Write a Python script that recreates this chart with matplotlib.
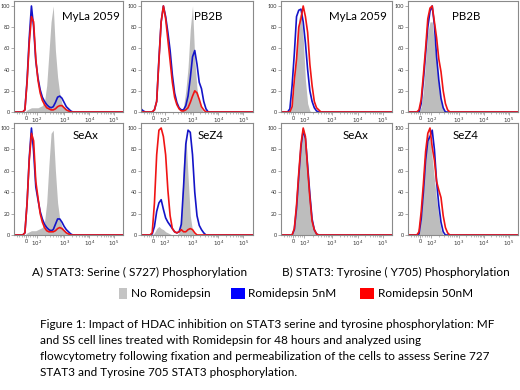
"""Flow cytometry overlay histograms: STAT3 phosphorylation after Romidepsin."""

import matplotlib

matplotlib.use("Agg")
import matplotlib.pyplot as plt
import numpy as np
from matplotlib.patches import Rectangle

plt.rcParams["font.family"] = ["Lato", "DejaVu Sans"]

# channel position (display scale, 0-100 across the plot) of each histogram bin
CHANNEL = [0, 2, 4, 6, 8, 10, 12, 14, 16, 18, 20, 22, 24, 26, 28, 30,
           32, 34, 36, 38, 40, 42, 44, 46, 48, 50, 52, 54, 56, 58, 60, 62, 100]

TICK_LABELS = ["0", "$10^2$", "$10^3$", "$10^4$", "$10^5$"]
TICK_CHANNEL = [11, 21, 46, 69, 91.5]

CELL_LINES = ["MyLa 2059", "PB2B", "SeAx", "SeZ4"]

# A) Serine S727, % of max
SER_NONE = {
    "MyLa 2059": [0, 0, 0, 0, 0, 0, 2, 3, 4, 4, 4, 4, 5, 6, 10, 25, 55, 85, 100, 58, 33, 17, 8, 5, 3, 1, 0, 0, 0, 0, 0, 0, 0],
    "PB2B":      [0, 0, 0, 0, 0, 0, 0, 0, 0, 0, 0, 0, 0, 0, 0, 0, 0, 0, 0, 5, 20, 42, 78, 100, 50, 22, 10, 3, 0, 0, 0, 0, 0],
    "SeAx":      [0, 0, 0, 0, 0, 0, 2, 3, 4, 4, 4, 5, 6, 7, 12, 30, 65, 95, 98, 60, 30, 15, 8, 5, 3, 1, 0, 0, 0, 0, 0, 0, 0],
    "SeZ4":      [0, 0, 0, 0, 0, 0, 2, 6, 8, 6, 5, 3, 2, 1, 0, 0, 0, 2, 20, 70, 95, 55, 18, 4, 0, 0, 0, 0, 0, 0, 0, 0, 0],
}
SER_5NM = {
    "MyLa 2059": [0, 0, 0, 0, 0, 2, 30, 70, 100, 80, 48, 32, 21, 14, 10, 7, 5, 4, 5, 9, 14, 15, 13, 9, 5, 3, 1, 0, 0, 0, 0, 0, 0],
    "PB2B":      [3, 1, 0, 0, 0, 0, 2, 10, 50, 85, 100, 90, 75, 58, 35, 18, 9, 4, 2, 2, 6, 15, 32, 52, 58, 45, 28, 22, 10, 3, 0, 0, 0],
    "SeAx":      [0, 0, 0, 0, 0, 2, 30, 72, 100, 78, 45, 33, 22, 15, 10, 7, 5, 4, 5, 10, 15, 15, 12, 8, 5, 3, 1, 0, 0, 0, 0, 0, 0],
    "SeZ4":      [0, 0, 0, 0, 0, 1, 8, 22, 30, 33, 24, 16, 12, 9, 6, 3, 2, 3, 10, 45, 85, 98, 96, 75, 40, 18, 9, 5, 2, 0, 0, 0, 0],
}
SER_50NM = {
    "MyLa 2059": [0, 0, 0, 0, 0, 2, 28, 65, 90, 85, 50, 30, 18, 11, 7, 4, 3, 2, 2, 3, 5, 6, 6, 4, 2, 1, 0, 0, 0, 0, 0, 0, 0],
    "PB2B":      [0, 0, 0, 0, 0, 0, 2, 10, 48, 85, 100, 88, 68, 48, 28, 14, 7, 3, 1, 1, 2, 4, 9, 15, 20, 18, 12, 5, 2, 0, 0, 0, 0],
    "SeAx":      [0, 0, 0, 0, 0, 2, 30, 70, 95, 88, 50, 35, 20, 12, 7, 4, 3, 3, 3, 4, 6, 7, 6, 4, 2, 1, 0, 0, 0, 0, 0, 0, 0],
    "SeZ4":      [0, 0, 0, 0, 0, 2, 30, 75, 98, 100, 92, 75, 42, 18, 6, 3, 2, 3, 5, 3, 3, 5, 6, 5, 2, 0, 0, 0, 0, 0, 0, 0, 0],
}

# B) Tyrosine Y705, % of max
TYR_NONE = {
    "MyLa 2059": [0, 0, 0, 0, 0, 5, 25, 60, 88, 95, 70, 30, 8, 1, 0, 0, 0, 0, 0, 0, 0, 0, 0, 0, 0, 0, 0, 0, 0, 0, 0, 0, 0],
    "PB2B":      [0, 0, 0, 0, 0, 0, 5, 20, 48, 75, 85, 85, 65, 45, 22, 10, 3, 0, 0, 0, 0, 0, 0, 0, 0, 0, 0, 0, 0, 0, 0, 0, 0],
    "SeAx":      [0, 0, 0, 0, 0, 0, 5, 25, 55, 80, 95, 80, 55, 30, 10, 3, 0, 0, 0, 0, 0, 0, 0, 0, 0, 0, 0, 0, 0, 0, 0, 0, 0],
    "SeZ4":      [0, 0, 0, 0, 0, 2, 15, 40, 75, 95, 90, 72, 52, 33, 17, 5, 0, 0, 0, 0, 0, 0, 0, 0, 0, 0, 0, 0, 0, 0, 0, 0, 0],
}
TYR_5NM = {
    "MyLa 2059": [0, 0, 0, 0, 3, 25, 55, 90, 96, 97, 85, 65, 40, 20, 10, 4, 1, 0, 0, 0, 0, 0, 0, 0, 0, 0, 0, 0, 0, 0, 0, 0, 0],
    "PB2B":      [0, 0, 0, 0, 0, 0, 8, 30, 55, 80, 95, 100, 82, 52, 30, 13, 4, 0, 0, 0, 0, 0, 0, 0, 0, 0, 0, 0, 0, 0, 0, 0, 0],
    "SeAx":      [0, 0, 0, 0, 0, 0, 5, 25, 55, 82, 98, 90, 65, 38, 15, 5, 1, 0, 0, 0, 0, 0, 0, 0, 0, 0, 0, 0, 0, 0, 0, 0, 0],
    "SeZ4":      [0, 0, 0, 0, 0, 1, 15, 40, 70, 88, 92, 98, 80, 50, 28, 12, 3, 0, 0, 0, 0, 0, 0, 0, 0, 0, 0, 0, 0, 0, 0, 0, 0],
}
TYR_50NM = {
    "MyLa 2059": [0, 0, 0, 0, 0, 5, 30, 50, 80, 88, 100, 90, 75, 45, 25, 10, 4, 2, 0, 0, 0, 0, 0, 0, 0, 0, 0, 0, 0, 0, 0, 0, 0],
    "PB2B":      [0, 0, 0, 0, 0, 2, 12, 35, 60, 88, 98, 100, 85, 70, 50, 38, 20, 8, 2, 0, 0, 0, 0, 0, 0, 0, 0, 0, 0, 0, 0, 0, 0],
    "SeAx":      [0, 0, 0, 0, 0, 0, 6, 28, 58, 85, 100, 92, 62, 35, 13, 5, 1, 0, 0, 0, 0, 0, 0, 0, 0, 0, 0, 0, 0, 0, 0, 0, 0],
    "SeZ4":      [0, 0, 0, 0, 0, 3, 22, 48, 78, 95, 100, 82, 70, 50, 42, 35, 18, 7, 2, 0, 0, 0, 0, 0, 0, 0, 0, 0, 0, 0, 0, 0, 0],
}

LEGEND_LABELS = ["No Romidepsin", "Romidepsin 5nM", "Romidepsin 50nM"]

GRAY = "#bdbdbd"
BLUE = "#1414c8"
RED = "#f01414"
FRAME = "#8a8a8a"

# panel frames in pixels: (left, right) per column, (top, bottom) per row
COLS = [(14, 123), (141, 253), (281, 392), (408, 518)]
ROWS = [(1, 112), (123, 235)]
W, H = 520, 390

# where the cell line name sits inside each panel (axes fraction)
NAME_POS = {
    (0, 0): 0.71, (0, 1): 0.60, (1, 0): 0.66, (1, 1): 0.625,
    (0, 2): 0.69, (0, 3): 0.53, (1, 2): 0.675, (1, 3): 0.52,
}


def minor_ticks():
    ticks = [3, 5, 7, 9, 13, 15, 17, 19]
    for lo, hi in zip(TICK_CHANNEL[1:-1], TICK_CHANNEL[2:]):
        ticks += [lo + (hi - lo) * np.log10(m) for m in range(2, 10)]
    return ticks


def draw_panel(ax, name, none, low, high, name_x, name_y):
    x = np.array(CHANNEL)
    ax.fill_between(x, none, color=GRAY, linewidth=0)
    ax.plot(x, low, color=BLUE, linewidth=1.2)
    ax.plot(x, high, color=RED, linewidth=1.2)
    ax.set_xlim(0, 100)
    ax.set_ylim(0, 104.7)
    ax.set_xticks(TICK_CHANNEL, TICK_LABELS)
    ax.set_xticks(minor_ticks(), minor=True)
    ax.set_yticks([0, 20, 40, 60, 80, 100])
    ax.tick_params(axis="both", labelsize=4, length=2, width=0.5, pad=1,
                   color=FRAME, labelcolor="#333333")
    ax.tick_params(axis="x", which="minor", length=1.2, width=0.4, color=FRAME)
    for spine in ax.spines.values():
        spine.set_color(FRAME)
        spine.set_linewidth(0.8)
    ax.text(name_x, name_y, name, transform=ax.transAxes, ha="center",
            va="center", fontsize=8.3)


def px_box(x0, y0, x1, y1, color):
    return Rectangle((x0 / W, 1 - y1 / H), (x1 - x0) / W, (y1 - y0) / H,
                     transform=fig.transFigure, color=color, linewidth=0)


fig = plt.figure(figsize=(W / 100, H / 100), dpi=100)

groups = [(SER_NONE, SER_5NM, SER_50NM), (TYR_NONE, TYR_5NM, TYR_50NM)]
for g, (none, low, high) in enumerate(groups):
    for i, name in enumerate(CELL_LINES):
        row, col = i // 2, 2 * g + i % 2
        left, right = COLS[col]
        top, bottom = ROWS[row]
        ax = fig.add_axes([left / W, 1 - bottom / H, (right - left) / W, (bottom - top) / H])
        name_y = 0.86 if row == 0 else 0.89
        draw_panel(ax, name, none[name], low[name], high[name], NAME_POS[(row, col)], name_y)

fig.text(140 / W, 1 - 272 / H, "A) STAT3: Serine ( S727) Phosphorylation",
         ha="center", va="center", fontsize=8.5)
fig.text(396 / W, 1 - 272 / H, "B) STAT3: Tyrosine ( Y705) Phosphorylation",
         ha="center", va="center", fontsize=8.5)

# legend: swatch pixel extents and label start
swatches = [(119, 127, "#c4c4c4", 131), (231, 245, "#0000ff", 248), (360, 374, "#ff0000", 378)]
for (x0, x1, color, tx), label in zip(swatches, LEGEND_LABELS):
    fig.add_artist(px_box(x0, 288, x1, 299, color))
    fig.text(tx / W, 1 - 293.5 / H, label, ha="left", va="center", fontsize=8.5)

caption = [
    "Figure 1: Impact of HDAC inhibition on STAT3 serine and tyrosine phosphorylation: MF",
    "and SS cell lines treated with Romidepsin for 48 hours and analyzed using",
    "flowcytometry following fixation and permeabilization of the cells to assess Serine 727",
    "STAT3 and Tyrosine 705 STAT3 phosphorylation.",
]
for k, line in enumerate(caption):
    fig.text(40 / W, 1 - (325 + 15.7 * k) / H, line, ha="left", va="center", fontsize=8.5)

fig.savefig("out.png", dpi=100)
